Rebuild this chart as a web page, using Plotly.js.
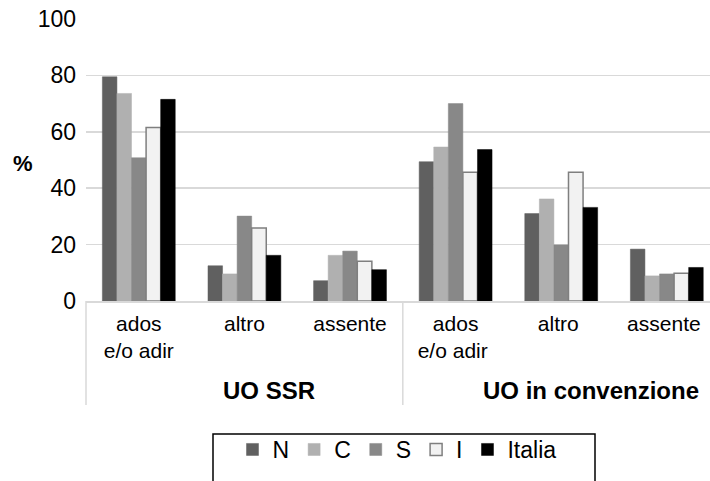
<!DOCTYPE html>
<html><head><meta charset="utf-8">
<script src="https://cdn.plot.ly/plotly-3.0.1.min.js"></script>
<style>html,body{margin:0;padding:0;background:#fff}#chart{width:710px;height:481px}</style>
</head><body><div id="chart"></div>
<script>
const categories = ["ados<br>e/o adir", "altro", "assente", "ados<br>e/o adir ", "altro ", "assente "];
const groups = ["UO SSR", "UO in convenzione"];
const seriesNames = ["N", "C", "S", "I", "Italia"];
const valuesN = [79.5, 12.5, 7.2, 49.4, 31.0, 18.4];
const valuesC = [73.6, 9.6, 16.2, 54.6, 36.2, 8.9];
const valuesS = [50.8, 30.1, 17.7, 70.0, 19.9, 9.6];
const valuesI = [61.5, 25.9, 14.1, 45.7, 45.7, 9.8];
const valuesItalia = [71.5, 16.2, 11.1, 53.7, 33.2, 11.9];
const yTicks = [0, 20, 40, 60, 80, 100];

const seriesValues = [valuesN, valuesC, valuesS, valuesI, valuesItalia];
const fills = ["#606060", "#b0b0b0", "#888888", "#f2f2f2", "#000000"];
const lines = ["#606060", "#b0b0b0", "#888888", "#7f7f7f", "#000000"];
const xs = categories.map((c, i) => i);

const traces = seriesNames.map((n, k) => ({
  type: "bar", name: n, x: xs, y: seriesValues[k],
  marker: {color: fills[k], line: {color: lines[k], width: k === 3 ? 1.5 : 0.5}},
  hoverinfo: "none"
}));

const font = "Liberation Sans, Arial, sans-serif";
const px = v => (v - 86) / 624;
const py = v => (301 - v) / 282;
const layout = {
  width: 710, height: 481,
  margin: {l: 86, r: 0, t: 19, b: 180},
  paper_bgcolor: "#fff", plot_bgcolor: "#fff",
  barmode: "group", bargap: 0.31, bargroupgap: 0,
  font: {family: font, size: 21, color: "#000"},
  showlegend: true,
  legend: {orientation: "h", x: px(397), xanchor: "center", y: py(428), yanchor: "top",
           bgcolor: "rgba(0,0,0,0)", borderwidth: 0, font: {family: font, size: 23},
           itemwidth: 30, tracegroupgap: 0},
  xaxis: {range: [-0.5, 5.409], tickvals: xs, ticktext: categories, ticks: "",
          showgrid: false, zeroline: false, showline: true, linecolor: "#d9d9d9", linewidth: 1.5,
          tickfont: {family: font, size: 21}, ticklabelstandoff: 3, fixedrange: true},
  yaxis: {range: [0, 100], tickvals: yTicks, ticktext: yTicks.map(String), ticks: "",
          showgrid: true, gridcolor: "#d9d9d9", gridwidth: 1.5, zeroline: false,
          showline: false, tickfont: {family: font, size: 23}, ticklabelstandoff: 9, fixedrange: true},
  shapes: [
    ...[0, 0.5077].map(x => ({type: "line", xref: "paper", yref: "paper",
          x0: x, x1: x, y0: 0, y1: -0.369, line: {color: "#d9d9d9", width: 1.5}})),
    {type: "rect", xref: "paper", yref: "paper", x0: px(213), x1: px(595), y0: py(434), y1: py(490),
     line: {color: "#000", width: 1.5}, fillcolor: "rgba(0,0,0,0)"}
  ],
  annotations: [
    {text: "<b>%</b>", xref: "paper", yref: "paper", x: px(23), y: py(163),
     showarrow: false, xanchor: "center", yanchor: "middle", font: {family: font, size: 22}},
    {text: "<b>" + groups[0] + "</b>", xref: "paper", yref: "paper", x: px(269), y: py(390),
     showarrow: false, xanchor: "center", yanchor: "middle", font: {family: font, size: 24}},
    {text: "<b>" + groups[1] + "</b>", xref: "paper", yref: "paper", x: px(591), y: py(390),
     showarrow: false, xanchor: "center", yanchor: "middle", font: {family: font, size: 24}}
  ]
};
Plotly.newPlot("chart", traces, layout, {staticPlot: true, displayModeBar: false});
</script></body></html>
